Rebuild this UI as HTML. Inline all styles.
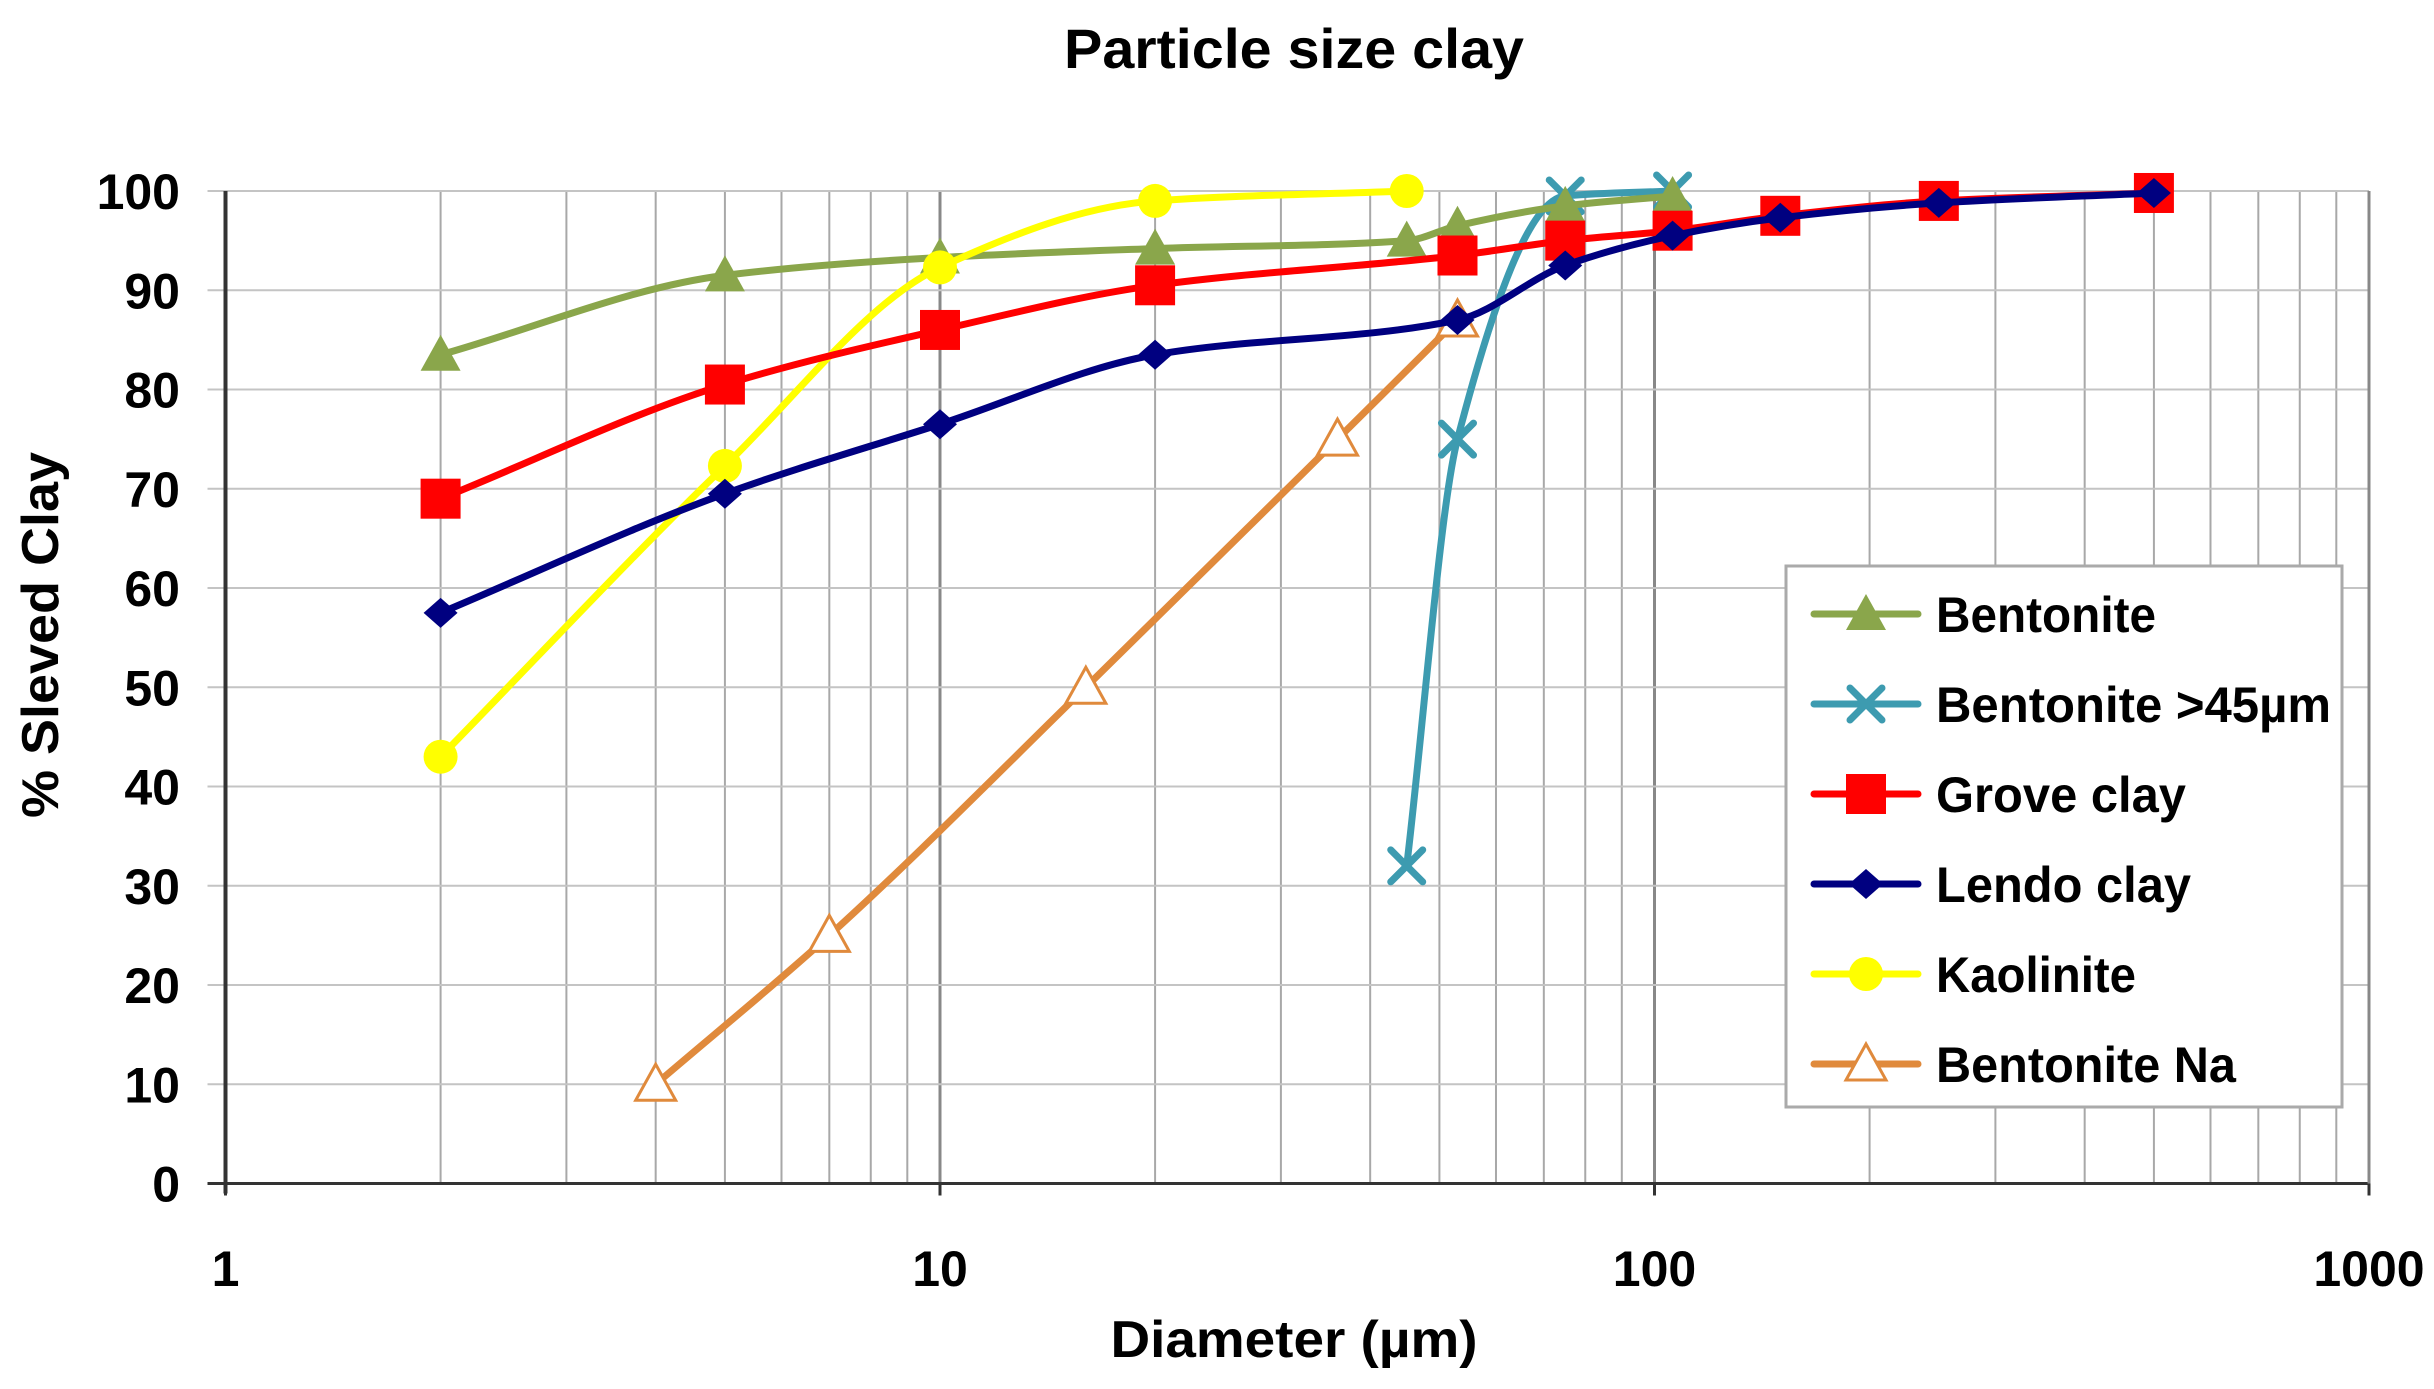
<!DOCTYPE html>
<html><head><meta charset="utf-8"><style>
html,body{margin:0;padding:0;background:#fff;}
svg{display:block;font-family:"Liberation Sans",Arial,sans-serif;font-weight:bold;}
</style></head><body>
<svg id="chart" width="2434" height="1389" viewBox="0 0 2434 1389">
<text x="1294" y="68" text-anchor="middle" font-size="56" textLength="460" lengthAdjust="spacingAndGlyphs">Particle size clay</text>
<g id="grid"></g>
<g id="axes"></g>
<g id="series"></g>
<text transform="translate(58,635) rotate(-90)" text-anchor="middle" font-size="52" textLength="366" lengthAdjust="spacingAndGlyphs">% Sleved Clay</text>
<text x="1294" y="1357" text-anchor="middle" font-size="52" textLength="367" lengthAdjust="spacingAndGlyphs">Diameter (µm)</text>
<g id="legend"></g>
</svg>
<script>
const yTicks=[0,10,20,30,40,50,60,70,80,90,100];
const xTicks=[1,10,100,1000];
const names=["Bentonite","Bentonite >45µm","Grove clay","Lendo clay","Kaolinite","Bentonite Na"];
const xBent=[2,5,10,20,45,53,75,106];
const yBent=[83.5,91.5,93.3,94.2,95,96.5,98.5,99.5];
const xB45=[45,53,75,106];
const yB45=[32,75,99.5,100];
const xGrove=[2,5,10,20,53,75,106,150,250,500];
const yGrove=[69,80.5,86,90.5,93.5,95,96,97.5,99,99.8];
const xLendo=[2,5,10,20,53,75,106,150,250,500];
const yLendo=[57.5,69.5,76.5,83.5,87,92.5,95.5,97.3,98.8,99.8];
const xKaol=[2,5,10,20,45];
const yKaol=[43,72.3,92.3,99,100];
const xNa=[4,7,16,36,53];
const yNa=[10,25,50,75,87];

const L=225.5,R=2369,T=191,B=1183.5;
const NS="http://www.w3.org/2000/svg";
function X(v){return L+(Math.log10(v))/3*(R-L);}
function Y(v){return B-v/100*(B-T);}
function mk(tag,attrs,parent){const e=document.createElementNS(NS,tag);for(const k in attrs)e.setAttribute(k,attrs[k]);parent.appendChild(e);return e;}
const grid=document.getElementById('grid'),axes=document.getElementById('axes'),ser=document.getElementById('series'),leg=document.getElementById('legend');
for(let d=0;d<3;d++)for(let m=1;m<=9;m++){const v=m*Math.pow(10,d);if(v===1)continue;
 const l=mk('line',{x1:X(v),x2:X(v),y1:T,y2:B,stroke:m===1?'#888':'#a8a8a8','stroke-width':m===1?3:2},grid);
 
 }
yTicks.forEach(t=>{
 const l=mk('line',{x1:L-18,x2:R,y1:Y(t),y2:Y(t),stroke:t===0?'#333':'#c4c4c4','stroke-width':t===0?3:2},grid);
 
 
 const tx=mk('text',{x:180,y:Y(t)+18,'text-anchor':'end','font-size':50},axes);tx.textContent=t;
 
 
});
mk('line',{x1:R,x2:R,y1:T,y2:B,stroke:'#888','stroke-width':3},axes);
mk('line',{x1:L,x2:L,y1:T,y2:B+10,stroke:'#333','stroke-width':4},axes);
xTicks.forEach(t=>{
 const tx=mk('text',{x:X(t),y:1286,'text-anchor':'middle','font-size':50},axes);tx.textContent=t;
 
 
 mk('line',{x1:X(t),x2:X(t),y1:B,y2:B+12,stroke:'#333','stroke-width':3},axes);
});
function smooth(xs,ys){
 const p=xs.map((x,i)=>[X(x),Y(ys[i])]);const n=p.length;
 if(n<2)return '';
 const dx=[],s=[];for(let i=0;i<n-1;i++){dx.push(p[i+1][0]-p[i][0]);s.push((p[i+1][1]-p[i][1])/dx[i]);}
 const m=new Array(n);m[0]=s[0];m[n-1]=s[n-2];
 for(let i=1;i<n-1;i++){if(s[i-1]*s[i]<=0)m[i]=0;else{const w1=2*dx[i]+dx[i-1],w2=dx[i]+2*dx[i-1];m[i]=(w1+w2)/(w1/s[i-1]+w2/s[i]);}}
 let d=`M${p[0][0]},${p[0][1]}`;
 for(let i=0;i<n-1;i++){const h=dx[i]/3;
  d+=` C${p[i][0]+h},${p[i][1]+m[i]*h} ${p[i+1][0]-h},${p[i+1][1]-m[i+1]*h} ${p[i+1][0]},${p[i+1][1]}`;}
 return d;}
function marker(type,color,x,y,parent){
 const s=20;let e;
 if(type==='tri')e=mk('polygon',{points:`${x},${y-s} ${x+s},${y+s*0.8} ${x-s},${y+s*0.8}`,fill:color},parent);
 else if(type==='otri')e=mk('polygon',{points:`${x},${y-s} ${x+s},${y+s*0.8} ${x-s},${y+s*0.8}`,fill:'#fff',stroke:color,'stroke-width':3},parent);
 else if(type==='sq')e=mk('rect',{x:x-s,y:y-s,width:2*s,height:2*s,fill:color},parent);
 else if(type==='dia')e=mk('polygon',{points:`${x},${y-15} ${x+17},${y} ${x},${y+15} ${x-17},${y}`,fill:color},parent);
 else if(type==='circ')e=mk('circle',{cx:x,cy:y,r:17,fill:color},parent);
 else if(type==='x')e=mk('path',{d:`M${x-16},${y-16}L${x+16},${y+16}M${x+16},${y-16}L${x-16},${y+16}`,stroke:color,'stroke-width':7,'stroke-linecap':'round',fill:'none'},parent);
 return e;}
const defs=[[xBent,yBent,'#8aa64b','tri'],[xB45,yB45,'#3d9bb0','x'],[xGrove,yGrove,'#ff0000','sq'],[xLendo,yLendo,'#000080','dia'],[xKaol,yKaol,'#ffff00','circ'],[xNa,yNa,'#e08a3c','otri']];
const order=[5,1,0,4,2,3];
order.forEach(i=>{const [xs,ys,c,m]=defs[i];
 const g=mk('g',{},ser);
 
 
 const p=mk('path',{d:smooth(xs,ys),fill:'none',stroke:c,'stroke-width':7},g);
 
 
 xs.forEach((x,j)=>{const e=marker(m,c,X(x),Y(ys[j]),g);
  
  });
});
const lb=mk('rect',{x:1786,y:566,width:556,height:541,fill:'#fff',stroke:'#aaa','stroke-width':3},leg);


const lenW=[220,395,250,255,200,300];
names.forEach((n,i)=>{const y=614+i*90;const [,,c,m]=defs[i];
 const g=mk('g',{},leg);
 
 
 mk('line',{x1:1814,x2:1918,y1:y,y2:y,stroke:c,'stroke-width':7,'stroke-linecap':'round'},g);
 marker(m,c,1866,y,g);
 const t=mk('text',{x:1936,y:y+18,'font-size':50,textLength:lenW[i],lengthAdjust:'spacingAndGlyphs'},g);t.textContent=n;
});
</script>
</body></html>
